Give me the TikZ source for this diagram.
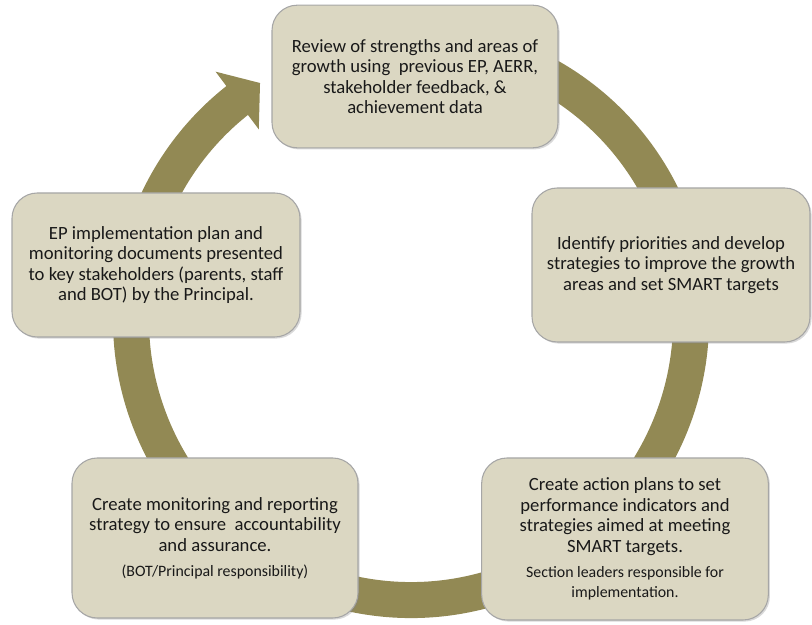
\documentclass[tikz,border=0pt]{standalone}
\usepackage{fontspec}
\setmainfont{Carlito}
\usetikzlibrary{shadows}

\definecolor{boxfill}{RGB}{219,215,194}
\definecolor{ringcol}{RGB}{146,137,84}
\definecolor{txtcol}{RGB}{25,25,25}
\newcommand{\smalltxt}{\fontsize{11.9}{12.9}\selectfont}

\begin{document}
\begin{tikzpicture}[
	x=0.75pt, y=0.75pt,
	stagebox/.style={draw=black!35, line width=0.8pt, fill=boxfill, rounded corners=19pt,
		align=center, text=txtcol, font=\fontsize{14}{15.4}\selectfont,
		drop shadow={shadow xshift=1.2pt, shadow yshift=-1.2pt, opacity=0.3}},
	ring/.style={draw=ringcol, line width=27pt}]
	\useasboundingbox (0,0) rectangle (812,624);
	%\draw [help lines, step=50] (0,0) grid (812,624);
	\coordinate (c) at (411,304);
	% the cycle ring with its arrow head
	\draw [ring] ([shift={(112:280)}]c) arc[start angle=112, end angle=-232, radius=280];
	\begin{scope}[shift={(c)}]
		\fill [ringcol] (128.6:244) -- (128.2:316) -- (122.5:281) -- cycle;
	\end{scope}
	% the five stages
	\node [stagebox, minimum width=214.5pt, minimum height=107pt] (review) at (415,547.5)
		{Review of strengths and areas of\\growth using\ \ previous EP, AERR,\\stakeholder feedback, \&\\achievement data};
	\node [stagebox, minimum width=208.5pt, minimum height=115.5pt] (priorities) at (671,359)
		{Identify priorities and develop\\strategies to improve the growth\\areas and set SMART targets};
	\node [stagebox, minimum width=215pt, minimum height=121.5pt] (action) at (625,85)
		{Create action plans to set\\performance indicators and\\strategies aimed at meeting\\SMART targets.\\[3pt]
		\smalltxt Section leaders responsible for\\\smalltxt implementation.};
	\node [stagebox, minimum width=214.5pt, minimum height=120pt] (monitor) at (215,86)
		{Create monitoring and reporting\\strategy to ensure\ \ accountability\\and assurance.\\[3pt]
		\smalltxt (BOT/Principal responsibility)};
	\node [stagebox, minimum width=216pt, minimum height=108pt] (present) at (156,359)
		{EP implementation plan and\\monitoring documents presented\\to key stakeholders (parents, staff\\and BOT) by the Principal.};
\end{tikzpicture}
\end{document}
